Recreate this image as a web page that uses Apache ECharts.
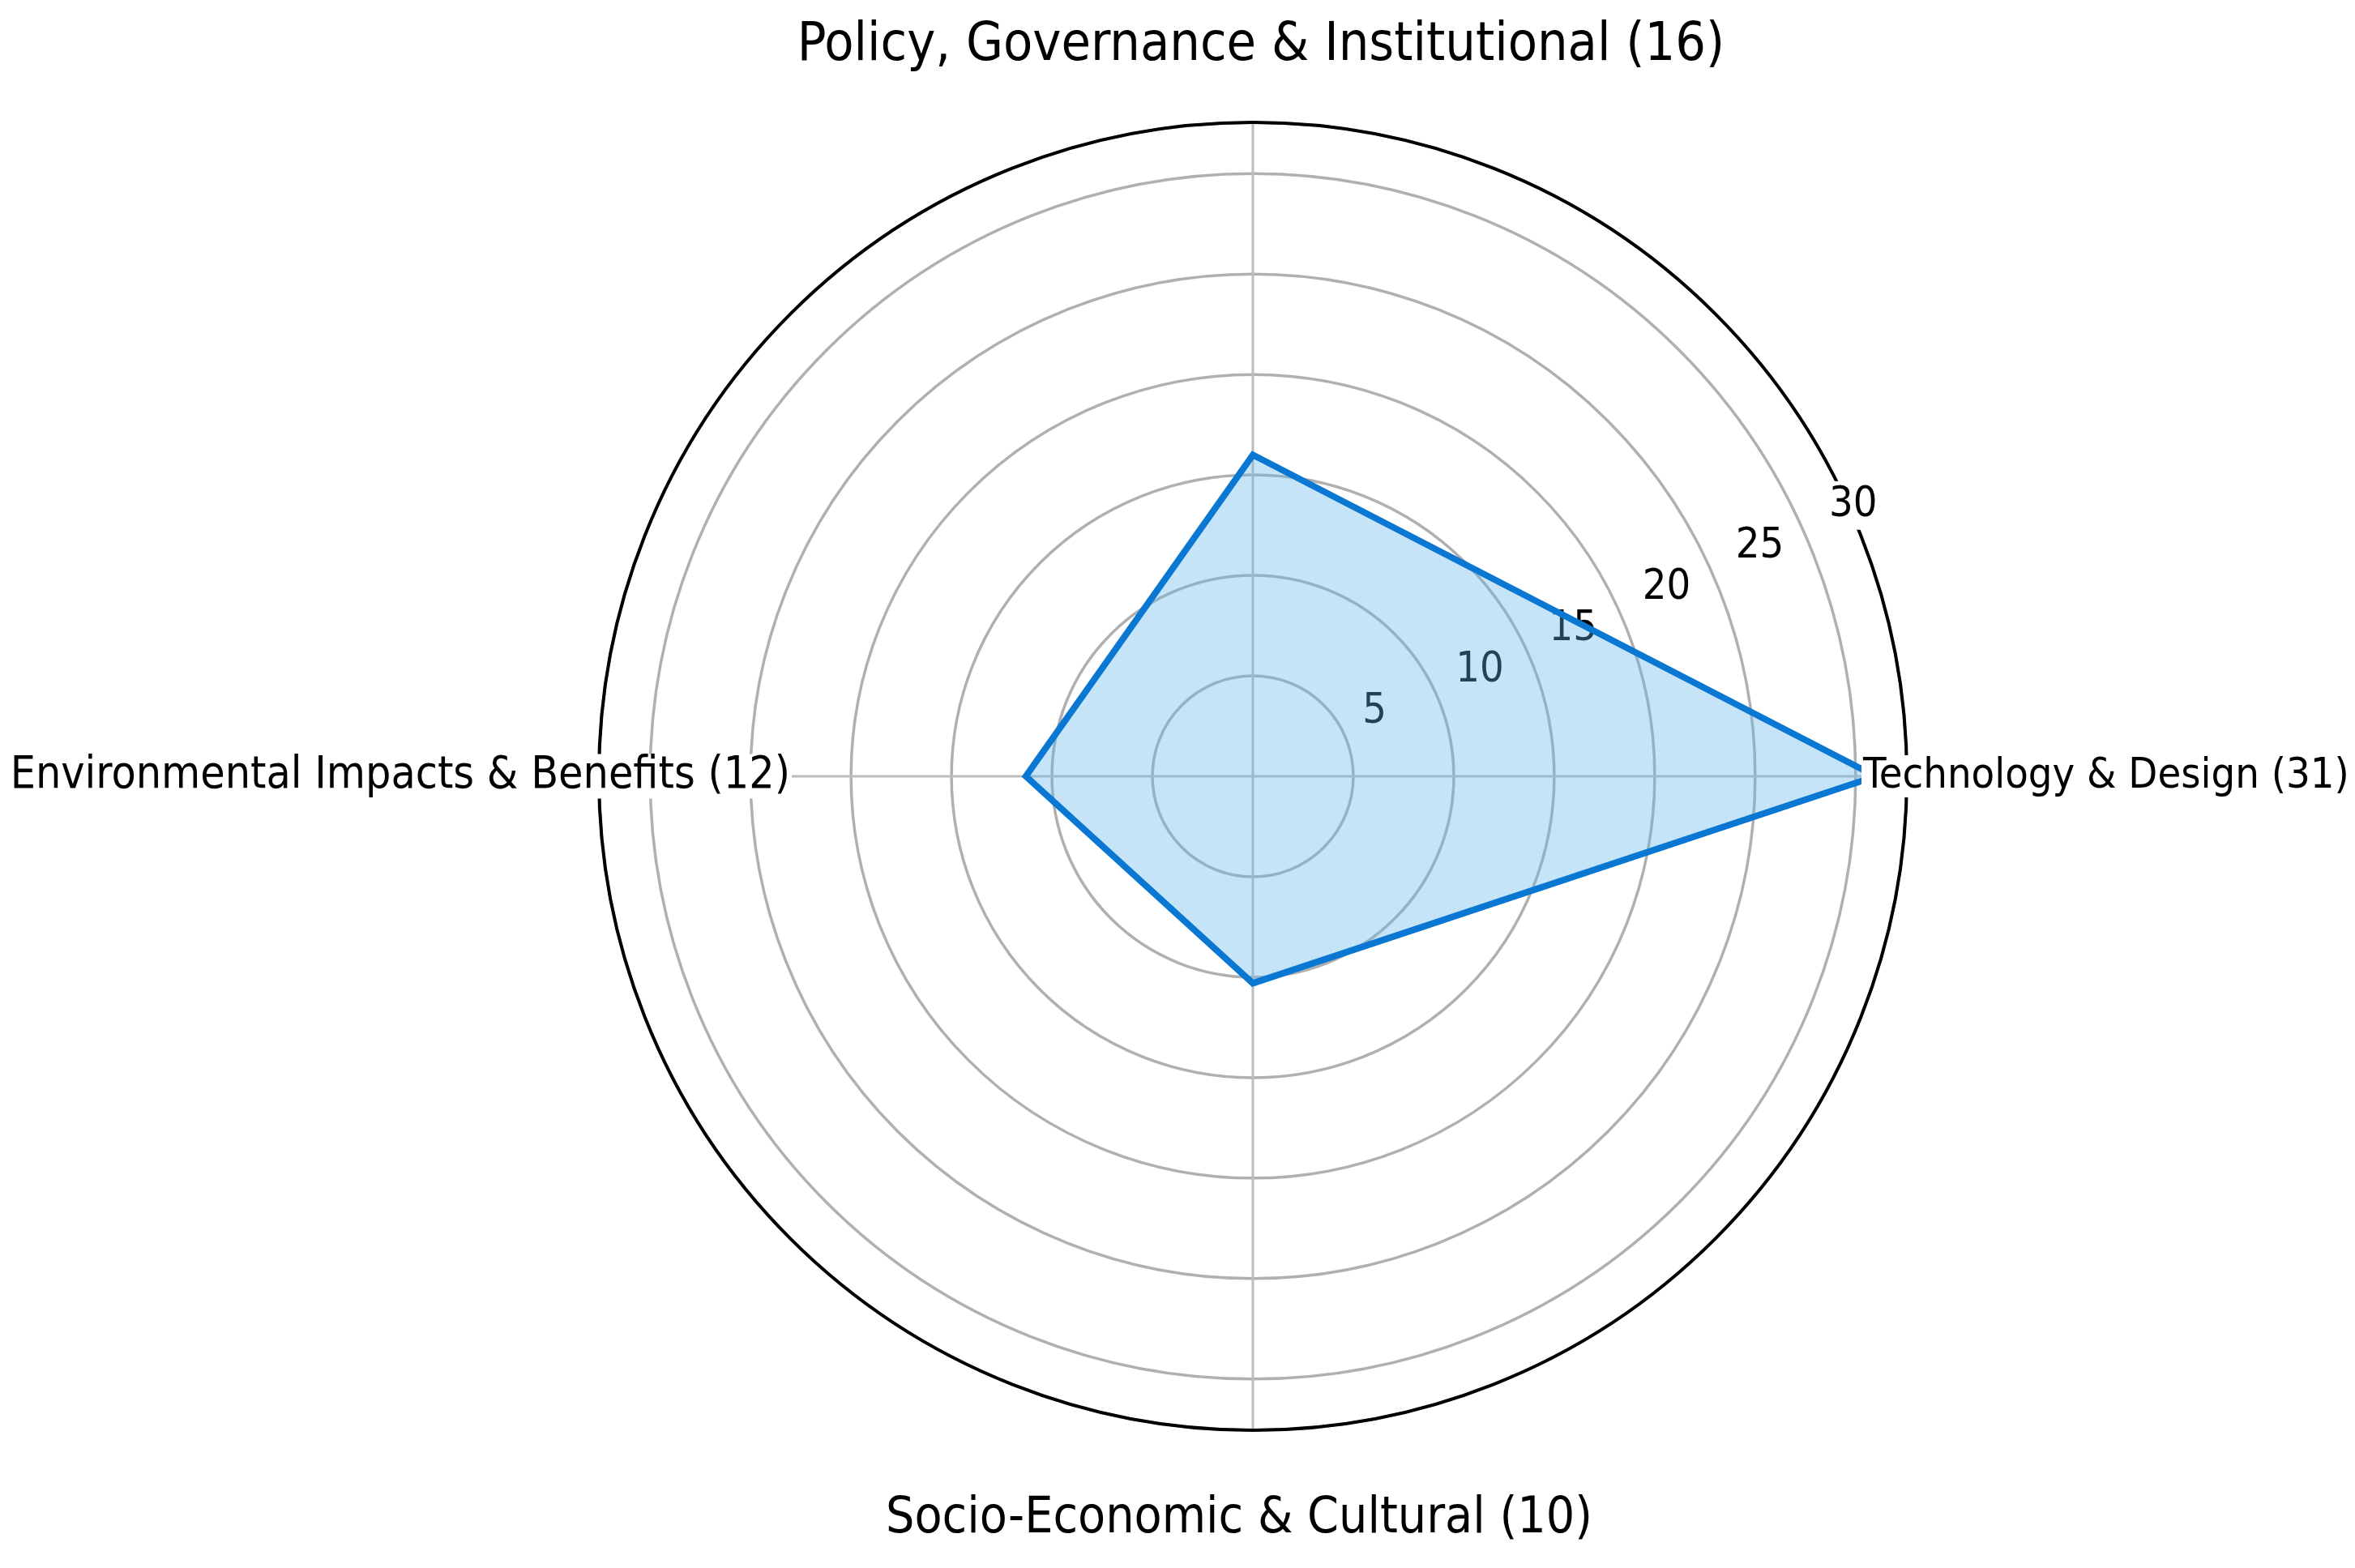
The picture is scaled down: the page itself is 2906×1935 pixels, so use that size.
<!DOCTYPE html>
<html>
<head>
<meta charset="utf-8">
<title>Polar chart</title>
<script src="https://cdn.jsdelivr.net/npm/echarts@6/dist/echarts.min.js"></script>
<style>
    html, body { margin: 0; padding: 0; background: #fff; }
    #chart { width: 2906px; height: 1935px; }
</style>
</head>
<body>
<div id="chart"></div>
<script>
// categories, counterclockwise from the right
var categories = [
    'Technology & Design (31)',
    'Policy, Governance & Institutional (16)',
    'Environmental Impacts & Benefits (12)',
    'Socio-Economic & Cultural (10)'
];
// radius of each vertex as drawn
var values = [31, 16, 11.3, 10.3];
var radiusMax = 32.55;
var radiusStep = 5;

var font = "'DejaVu Sans Condensed', 'DejaVu Sans', sans-serif";
var center = [1546, 958];
var radius = 807;

var chart = echarts.init(document.getElementById('chart'));

// closed polygon: go back to the first point
var lineData = categories.map(function (c, i) { return [values[i], c]; });
lineData.push([values[0], categories[0]]);

// per-label layout (size + padding to place the centre of each label)
var labelTweaks = [
    { fontSize: 52, padding: [0, 0, 0, 182] },
    { fontSize: 66, lineHeight: 70, padding: [0, 0, 297, 20] },
    { fontSize: 55, padding: [0, 0, 0, 0] },
    { fontSize: 62, lineHeight: 70, padding: [313, 34, 0, 0] }
];
var labelData = categories.map(function (c, i) {
    return { value: c, textStyle: labelTweaks[i] };
});

var option = {
    backgroundColor: '#fff',
    animation: false,
    polar: [
        { center: center, radius: radius },              // grid
        { center: [1562, 930], radius: 820 },           // radial tick labels
        { center: center, radius: radius }               // data + category labels
    ],
    angleAxis: [
        {
            polarIndex: 0,
            type: 'value',
            min: 0,
            max: 360,
            interval: 90,
            startAngle: 0,
            clockwise: false,
            z: 0,
            axisLine: { lineStyle: { color: '#000', width: 4 } },
            axisTick: { show: false },
            axisLabel: { show: false },
            splitLine: { show: true, lineStyle: { color: '#bdbdbd', width: 3 } }
        },
        {
            polarIndex: 1,
            type: 'value',
            min: 0,
            max: 360,
            startAngle: 23.9,
            show: false
        },
        {
            polarIndex: 2,
            type: 'category',
            data: labelData,
            startAngle: -45,
            clockwise: false,
            boundaryGap: true,
            z: 3,
            axisLine: { show: false },
            axisTick: { show: false },
            splitLine: { show: false },
            axisLabel: {
                show: true,
                margin: -238,
                color: '#000',
                fontFamily: font,
                formatter: function (v) { return '{t|' + v + '}'; },
                rich: {
                    t: { backgroundColor: '#fff', padding: [0, 2] }
                }
            }
        }
    ],
    radiusAxis: [
        {
            polarIndex: 0,
            type: 'value',
            min: 0,
            max: radiusMax,
            interval: radiusStep,
            z: 0,
            axisLine: { show: false },
            axisTick: { show: false },
            axisLabel: { show: false },
            splitLine: { show: true, lineStyle: { color: '#b0b0b0', width: 3.5 } }
        },
        {
            polarIndex: 1,
            type: 'value',
            min: 0,
            max: radiusMax,
            interval: radiusStep,
            z: 1,
            axisLine: { show: false },
            axisTick: { show: false },
            splitLine: { show: false },
            axisLabel: {
                show: true,
                margin: 0,
                showMinLabel: false,
                showMaxLabel: false,
                align: 'left',
                verticalAlign: 'middle',
                fontSize: 52,
                fontFamily: font,
                color: '#000',
                backgroundColor: '#fff',
                padding: [4, 4]
            }
        },
        {
            polarIndex: 2,
            type: 'value',
            min: 0,
            max: radiusMax,
            show: false
        }
    ],
    series: [
        {
            name: 'count',
            type: 'line',
            coordinateSystem: 'polar',
            polarIndex: 2,
            data: lineData,
            symbol: 'none',
            showSymbol: false,
            clip: false,
            z: 2,
            silent: true,
            lineStyle: { color: '#0a78d2', width: 8, join: 'miter' },
            areaStyle: { color: 'rgba(100,180,235,0.52)' }
        }
    ]
};

chart.setOption(option);
</script>
</body>
</html>
